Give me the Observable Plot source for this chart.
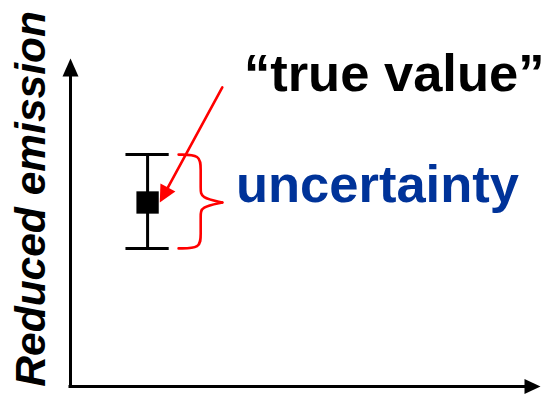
<!DOCTYPE html>
<html>
<head>
<meta charset="utf-8">
<script src="https://cdn.jsdelivr.net/npm/d3@7"></script>
<script src="https://cdn.jsdelivr.net/npm/@observablehq/plot@0.6"></script>
<style>
  html, body { margin: 0; padding: 0; background: #fff; }
  #chart svg { display: block; }
</style>
</head>
<body>
<div id="chart"></div>
<script>
// ---- data (arbitrary units, 0..100 on both axes) ----
const pointX = [16.4];
const pointY = [56.1];
const errorLow = [42.1];
const errorHigh = [70.7];

const arrowTailX = [32.3];
const arrowTailY = [91.2];
const arrowTipX = [19.0];
const arrowTipY = [56.1];

const braceLeftX = [23.0];
const braceInnerX = [27.7];
const braceTipX = [32.3];

const labelTrue = ["\u201Ctrue value\u201D"];
const labelTrueX = [36.9];
const labelTrueY = [90.2];

const labelUnc = ["uncertainty"];
const labelUncX = [35.2];
const labelUncY = [56.2];

const axisTitle = ["Reduced emission"];
const axisTitleY = [57.2];

const xDomain = [0, 100];
const yDomain = [0, 100];

// ---- layout ----
const W = 546, H = 401;
const mL = 70, mR = 6, mT = 58, mB = 15;
const kx = (W - mL - mR) / (xDomain[1] - xDomain[0]);
const ky = (H - mT - mB) / (yDomain[1] - yDomain[0]);

// triangle head symbol: tip at origin, pointing along (ux, uy) in screen coords
function head(ux, uy, len, hw) {
  const n = Math.hypot(ux, uy); ux /= n; uy /= n;
  const px = -uy, py = ux;
  return {
    draw(ctx) {
      ctx.moveTo(0, 0);
      ctx.lineTo(-len * ux + hw * px, -len * uy + hw * py);
      ctx.lineTo(-len * ux - hw * px, -len * uy - hw * py);
      ctx.closePath();
    }
  };
}

const redDx = (arrowTipX[0] - arrowTailX[0]) * kx;
const redDy = -(arrowTipY[0] - arrowTailY[0]) * ky;

// brace halves (built from brace parameters and the error bar)
const bTop = errorHigh[0], bBot = errorLow[0], bMid = pointY[0];
const bxl = braceLeftX[0], bxm = braceInnerX[0], bxt = braceTipX[0];
const half = (yEnd, sgn) => {
  const h = Math.abs(yEnd - bMid);
  return [
    [bxl, yEnd],
    [bxm, yEnd],
    [bxm, yEnd - sgn * h * 0.3],
    [bxm, bMid + sgn * h * 0.28],
    [bxm, bMid + sgn * h * 0.1],
    [bxt, bMid]
  ];
};
const braceUpper = half(bTop, 1);
const braceLower = half(bBot, -1);

const font = "'Liberation Sans', Arial, Helvetica, sans-serif";

const chart = Plot.plot({
  width: W,
  height: H,
  marginLeft: mL,
  marginRight: mR,
  marginTop: mT,
  marginBottom: mB,
  x: {domain: xDomain, axis: null},
  y: {domain: yDomain, axis: null},
  style: {fontFamily: font, background: "#fff"},
  marks: [
    // axes
    Plot.ruleX([xDomain[0]], {y1: yDomain[0], y2: yDomain[1] - 4, stroke: "black", strokeWidth: 3, strokeLinecap: "square"}),
    Plot.ruleY([yDomain[0]], {x1: xDomain[0], x2: xDomain[1] - 2, stroke: "black", strokeWidth: 3, strokeLinecap: "square"}),
    Plot.dot([0], {x: () => xDomain[0], y: () => yDomain[1], symbol: head(0, -1, 18, 8), r: 10, fill: "black", stroke: "none"}),
    Plot.dot([0], {x: () => xDomain[1], y: () => yDomain[0], symbol: head(1, 0, 16, 7.5), r: 10, fill: "black", stroke: "none"}),

    // error bar
    Plot.ruleX(pointX, {x: d => d, y1: errorLow[0], y2: errorHigh[0], stroke: "black", strokeWidth: 3}),
    Plot.ruleY([errorLow[0], errorHigh[0]], {y: d => d, x1: pointX[0] - 4.6, x2: pointX[0] + 4.6, stroke: "black", strokeWidth: 3}),
    Plot.dot(pointX, {x: d => d, y: pointY, symbol: "square", r: 12.6, fill: "black", stroke: "none"}),

    // brace
    Plot.line(braceUpper, {x: d => d[0], y: d => d[1], curve: "basis", stroke: "red", strokeWidth: 2.6}),
    Plot.line(braceLower, {x: d => d[0], y: d => d[1], curve: "basis", stroke: "red", strokeWidth: 2.6}),

    // red arrow
    Plot.arrow(arrowTailX, {x1: d => d, y1: arrowTailY, x2: arrowTipX, y2: arrowTipY, headLength: 0, insetEnd: 10, stroke: "red", strokeWidth: 2.6}),
    Plot.dot(arrowTipX, {x: d => d, y: arrowTipY, symbol: head(redDx, redDy, 17, 8.5), r: 10, fill: "red", stroke: "none"}),

    // labels
    Plot.text(labelTrue, {x: labelTrueX, y: labelTrueY, text: d => d, textAnchor: "start", lineAnchor: "bottom", fontSize: 52.5, fontWeight: "bold", fill: "black"}),
    Plot.text(labelUnc, {x: labelUncX, y: labelUncY, text: d => d, textAnchor: "start", lineAnchor: "bottom", fontSize: 52.5, fontWeight: "bold", fill: "#003399"}),

    // y-axis title
    Plot.text(axisTitle, {frameAnchor: "left", y: axisTitleY, text: d => d, dx: -39, rotate: -90, textAnchor: "middle", lineAnchor: "middle", fontSize: 42.5, fontWeight: "bold", fontStyle: "italic", fill: "black"})
  ]
});

document.getElementById("chart").appendChild(chart);
</script>
</body>
</html>
